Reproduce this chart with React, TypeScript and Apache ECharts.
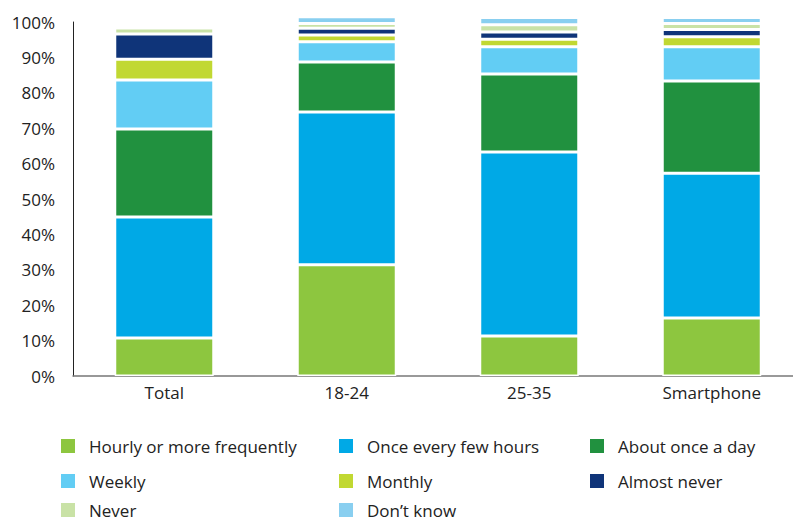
import React, { useEffect, useRef } from "react";
import * as echarts from "echarts";

const categories = ["Total", "18-24", "25-35", "Smartphone"];
const seriesNames = [
  "Hourly or more frequently",
  "Once every few hours",
  "About once a day",
  "Weekly",
  "Monthly",
  "Almost never",
  "Never",
  "Don\u2019t know",
];
const hourly = [10.7, 31.4, 11.3, 16.4];
const fewHours = [34.2, 43.2, 52.0, 40.9];
const onceDay = [24.9, 14.1, 22.0, 26.0];
const weekly = [13.8, 5.7, 7.7, 9.7];
const monthly = [5.9, 1.9, 2.1, 2.8];
const almostNever = [7.1, 1.9, 2.1, 2.1];
const never = [1.7, 1.4, 2.0, 1.7];
const dontKnow = [0, 1.9, 2.1, 1.7];
const colors = ["#8dc63f", "#00a9e6", "#21913f", "#62cdf4", "#c1d832", "#0f3479", "#c9e2a6", "#89cff0"];
const legendPos = [
  [59, 437], [337, 437], [588, 437],
  [59, 472], [337, 472], [588, 472],
  [59, 501], [337, 501],
];

export default function App() {
  const ref = useRef<HTMLDivElement>(null);
  useEffect(() => {
    document.body.style.margin = "0";
    const chart = echarts.init(ref.current!, null, { renderer: "svg" });
    const values = [hourly, fewHours, onceDay, weekly, monthly, almostNever, never, dontKnow];
    const font = "'Open Sans', sans-serif";
    chart.setOption({
      animation: false,
      textStyle: { fontFamily: font },
      grid: { left: 73, top: 22, width: 730, bottom: 145 },
      xAxis: {
        type: "category",
        data: categories,
        axisLine: { lineStyle: { color: "#777", width: 1.5 } },
        axisTick: { show: false },
        axisLabel: { color: "#222", fontSize: 17, margin: 8, fontFamily: font },
      },
      yAxis: {
        type: "value",
        min: 0,
        max: 100,
        interval: 10,
        axisLine: { show: true, lineStyle: { color: "#222", width: 1 } },
        axisTick: { show: false },
        splitLine: { show: false },
        axisLabel: { color: "#222", fontSize: 17, margin: 18, formatter: "{value}%", fontFamily: font },
      },
      legend: seriesNames.map((n, i) => ({
        data: [n],
        left: legendPos[i][0],
        top: legendPos[i][1],
        itemWidth: 16,
        itemHeight: 16,
        itemGap: 0,
        icon: "rect",
        selectedMode: false,
        textStyle: { color: "#222", fontSize: 17, lineHeight: 16, padding: [0, 0, 0, 8], fontFamily: font },
        padding: 0,
      })),
      series: seriesNames.map((n, i) => ({
        name: n,
        type: "bar",
        stack: "all",
        barWidth: 99,
        clip: false,
        data: values[i],
        itemStyle: { color: colors[i], borderColor: "#fff", borderWidth: 1.5 },
      })),
    });
    return () => chart.dispose();
  }, []);
  return (
    <div style={{ width: 793, height: 521, overflow: "hidden", position: "relative" }}>
      <div ref={ref} style={{ width: 820, height: 521 }} />
    </div>
  );
}
